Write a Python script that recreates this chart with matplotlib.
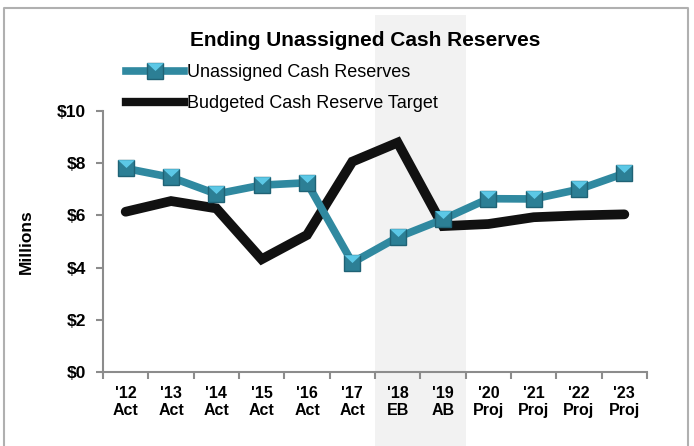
import matplotlib
matplotlib.use("Agg")
import matplotlib.pyplot as plt
import matplotlib.transforms as mtransforms
from matplotlib.patches import Rectangle
from matplotlib.lines import Line2D

plt.rcParams['font.family'] = ['Liberation Sans', 'DejaVu Sans']

years = ["'12", "'13", "'14", "'15", "'16", "'17", "'18", "'19", "'20", "'21", "'22", "'23"]
kinds = ["Act", "Act", "Act", "Act", "Act", "Act", "EB", "AB", "Proj", "Proj", "Proj", "Proj"]
unassigned = [7.80, 7.46, 6.82, 7.16, 7.25, 4.19, 5.16, 5.85, 6.64, 6.63, 7.00, 7.61]
target = [6.14, 6.55, 6.27, 4.32, 5.25, 8.06, 8.79, 5.59, 5.67, 5.93, 6.00, 6.04]
shaded = ["'18", "'19"]

teal = '#3089a0'
grey = '#8c8c8c'
top_face = [(-0.85, 0.85), (0.85, 0.85), (0, 0.05), (-0.85, 0.85)]

fig = plt.figure(figsize=(6.94, 4.46), dpi=100)
ax = fig.add_axes([103/694, 1-372/446, 544/694, 261/446])

x = list(range(len(years)))

# shaded budget years, spanning the chart height
i0 = years.index(shaded[0])
i1 = years.index(shaded[-1])
trans = mtransforms.blended_transform_factory(ax.transData, fig.transFigure)
fig.patches.append(Rectangle((i0 - 0.5, 0), i1 - i0 + 1, 1 - 15/446, transform=trans,
                             facecolor='#f2f2f2', edgecolor='none', zorder=-1))

ax.plot(x, target, color='#111111', lw=7, solid_capstyle='round', solid_joinstyle='miter', zorder=3)
ax.plot(x, unassigned, color=teal, lw=5.5, solid_capstyle='round', zorder=4)
ax.plot(x, unassigned, ls='none', marker='s', ms=12, mfc='#2c7f95', mec='#1f6275', mew=1, zorder=5)
ax.plot(x, unassigned, ls='none', marker=top_face, ms=12, mfc='#5cc8e6', mec='none', zorder=6)

ax.set_xlim(-0.5, len(years) - 0.5)
ax.set_ylim(0, 10)
ax.patch.set_alpha(0)

ax.set_yticks(range(0, 11, 2))
ax.set_yticklabels(['$%d' % v for v in range(0, 11, 2)], fontsize=12.5, fontweight='bold')
ax.set_xticks([i - 0.5 for i in range(len(years) + 1)])
ax.set_xticklabels([])
ax.set_xticks(x, minor=True)
ax.set_xticklabels([y + '\n' + k for y, k in zip(years, kinds)], minor=True,
                   fontsize=11.5, fontweight='bold', linespacing=1.2)
ax.tick_params(axis='x', which='minor', length=0, pad=10)
ax.tick_params(axis='both', which='major', direction='out', length=5, width=1.5, color=grey)
ax.tick_params(axis='y', pad=7)

for s in ['top', 'right']:
    ax.spines[s].set_visible(False)
for s in ['left', 'bottom']:
    ax.spines[s].set_color(grey)
    ax.spines[s].set_linewidth(1.5)

ax.set_ylabel('Millions', fontsize=12.5, fontweight='bold', labelpad=17)

fig.text(365/694, 1-40/446, 'Ending Unassigned Cash Reserves', ha='center', va='center',
         fontsize=15, fontweight='bold')

h1 = (Line2D([], [], color=teal, lw=5.5, marker='s', ms=12, mfc='#2c7f95', mec='#1f6275'),
      Line2D([], [], ls='none', marker=top_face, ms=12, mfc='#5cc8e6', mec='none'))
h2 = Line2D([], [], color='#111111', lw=6)
ax.legend([h1, h2], ['Unassigned Cash Reserves', 'Budgeted Cash Reserve Target'],
          loc='upper left', bbox_to_anchor=(126/694, 1-64/446), bbox_transform=fig.transFigure,
          frameon=False, fontsize=13, handlelength=3.2, handletextpad=0.2,
          borderpad=0, borderaxespad=0, labelspacing=0.78)

# outer chart border (no bottom edge)
fig.add_artist(Line2D([4/694, 4/694, 688/694, 688/694], [0, 1-8/446, 1-8/446, 0],
                      transform=fig.transFigure, color='#b0b0b0', lw=1.5))

fig.savefig('out.png', dpi=100)
